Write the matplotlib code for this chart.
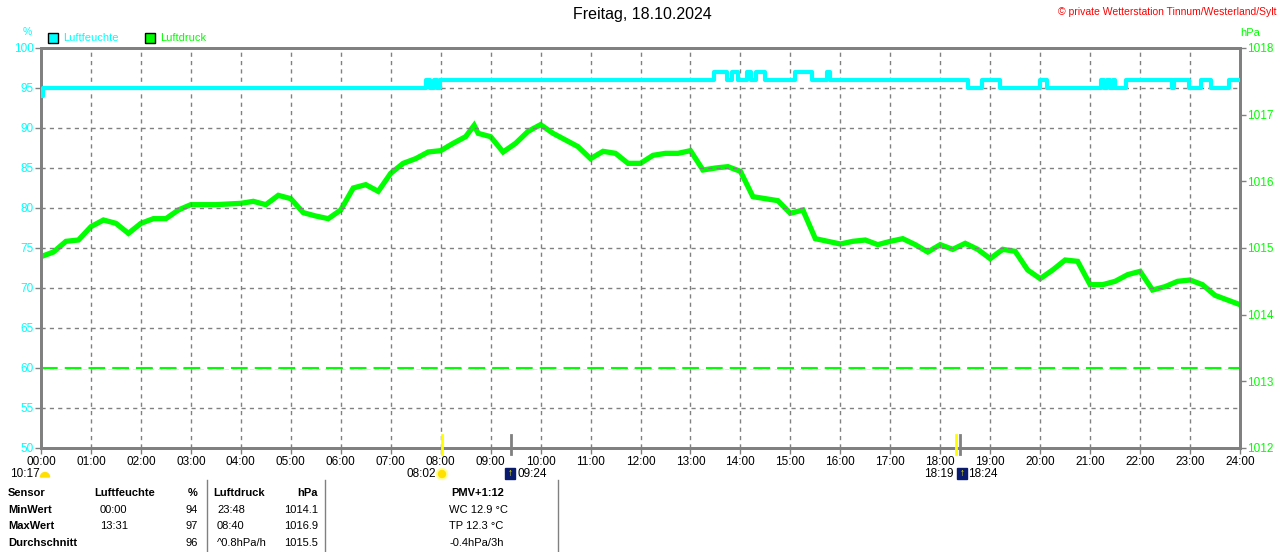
import numpy as np
import matplotlib
matplotlib.use('Agg')
from matplotlib import pyplot as plt
from matplotlib.patches import Rectangle, Wedge, Circle

plt.rcParams['font.family'] = ['Liberation Sans', 'DejaVu Sans']

title = 'Freitag, 18.10.2024'
copyright_text = '\u00a9 private Wetterstation Tinnum/Westerland/Sylt'

# humidity (%) as steps: time in hours, value from that time on
hum_t = [0.0, 0.05, 7.70, 7.78, 7.86, 7.92, 7.98, 13.48, 13.73, 13.83, 13.95,
         14.13, 14.22, 14.32, 14.50, 15.10, 15.43, 15.73, 15.80, 18.55, 18.83,
         19.20, 20.00, 20.13, 21.22, 21.28, 21.33, 21.40, 21.45, 21.50, 21.72,
         22.63, 22.68, 22.97, 23.22, 23.42, 23.78, 24.0]
hum_v = [94, 95, 96, 95, 96, 95, 96, 97, 96, 97, 96,
         97, 96, 97, 96, 97, 96, 97, 96, 95, 96,
         95, 96, 95, 96, 95, 96, 95, 96, 95, 96,
         95, 96, 95, 96, 95, 96, 96]

# pressure (hPa), every 15 minutes plus the 08:40 peak
p_t = [0.0, 0.25, 0.5, 0.75, 1.0, 1.25, 1.5, 1.75, 2.0, 2.25, 2.5, 2.75,
       3.0, 3.25, 3.5, 3.75, 4.0, 4.25, 4.5, 4.75, 5.0, 5.25, 5.5, 5.75,
       6.0, 6.25, 6.5, 6.75, 7.0, 7.25, 7.5, 7.75, 8.0, 8.25, 8.5, 8.67, 8.75,
       9.0, 9.25, 9.5, 9.75, 10.0, 10.25, 10.5, 10.75, 11.0, 11.25, 11.5, 11.75,
       12.0, 12.25, 12.5, 12.75, 13.0, 13.25, 13.5, 13.75, 14.0, 14.25, 14.5, 14.75,
       15.0, 15.25, 15.5, 15.75, 16.0, 16.25, 16.5, 16.75, 17.0, 17.25, 17.5, 17.75,
       18.0, 18.25, 18.5, 18.75, 19.0, 19.25, 19.5, 19.75, 20.0, 20.25, 20.5, 20.75,
       21.0, 21.25, 21.5, 21.75, 22.0, 22.25, 22.5, 22.75, 23.0, 23.25, 23.5, 23.75, 24.0]
p_v = [1014.87, 1014.94, 1015.10, 1015.12, 1015.32, 1015.42, 1015.37, 1015.22,
       1015.37, 1015.44, 1015.44, 1015.57, 1015.65, 1015.65, 1015.65, 1015.66,
       1015.67, 1015.70, 1015.65, 1015.79, 1015.74, 1015.53, 1015.48, 1015.44,
       1015.57, 1015.90, 1015.95, 1015.85, 1016.12, 1016.27, 1016.34, 1016.44,
       1016.46, 1016.57, 1016.67, 1016.84, 1016.72, 1016.67, 1016.44, 1016.57,
       1016.75, 1016.85, 1016.72, 1016.62, 1016.52, 1016.34, 1016.45, 1016.42,
       1016.27, 1016.27, 1016.39, 1016.42, 1016.42, 1016.46, 1016.17, 1016.20,
       1016.22, 1016.15, 1015.77, 1015.74, 1015.71, 1015.52, 1015.57, 1015.14,
       1015.10, 1015.06, 1015.10, 1015.12, 1015.05, 1015.10, 1015.14, 1015.05,
       1014.94, 1015.05, 1014.98, 1015.07, 1014.98, 1014.84, 1014.98, 1014.95,
       1014.67, 1014.54, 1014.67, 1014.82, 1014.80, 1014.45, 1014.45, 1014.50,
       1014.60, 1014.65, 1014.37, 1014.42, 1014.50, 1014.52, 1014.45, 1014.29,
       1014.22, 1014.15]
p_ref = 1013.2

hours = list(range(25))
hour_labels = ['%02d:00' % h for h in hours]
hum_ticks = [50, 55, 60, 65, 70, 75, 80, 85, 90, 95, 100]
p_ticks = [1012, 1013, 1014, 1015, 1016, 1017, 1018]

# table below the chart
table_rows = ['Sensor', 'MinWert', 'MaxWert', 'Durchschnitt']
hum_time = ['', '00:00', '13:31', '']
hum_val = ['%', '94', '97', '96']
p_time = ['', '23:48', '08:40', '^0.8hPa/h']
p_val = ['hPa', '1014.1', '1016.9', '1015.5']
pmv = ['PMV+1:12', 'WC 12.9 \u00b0C', 'TP 12.3 \u00b0C', '-0.4hPa/3h']

CYAN = '#00FFFF'
GREEN = '#00FF00'
GRAY = '#808080'

W, H = 1280, 552
fig = plt.figure(figsize=(W / 100, H / 100), dpi=100)
L, R, T, B = 41, 1240, 48, 448
ax = fig.add_axes([L / W, 1 - B / H, (R - L) / W, (B - T) / H])
ax2 = ax.twinx()

ax.set_xlim(0, 24)
ax.set_ylim(50, 100)
ax2.set_ylim(1012, 1018)

for h in hours[1:-1]:
    ax.axvline(h, color=GRAY, lw=1, ls=(0, (3, 3)), zorder=1)
for v in hum_ticks[1:-1]:
    ax.axhline(v, color=GRAY, lw=1, ls=(0, (3, 3)), zorder=1)

# reference line in hPa, drawn on the top axes so it covers the grid
ax.plot([0, 24], [p_ref, p_ref], transform=ax2.transData, color=GREEN, lw=1.5,
        ls=(0, (8, 3.4)), gapcolor='white', zorder=2)
ax2.plot(p_t, p_v, color=GREEN, lw=3.8, solid_joinstyle='miter', zorder=3)
ax.plot(hum_t, hum_v, color=CYAN, lw=3, drawstyle='steps-post', zorder=4)
ax.set_zorder(ax2.get_zorder() + 1)
ax.patch.set_visible(False)

for a in (ax, ax2):
    for s in a.spines.values():
        s.set_color(GRAY)
        s.set_linewidth(2)

ax.set_xticks(hours)
ax.set_xticklabels(hour_labels)
ax.set_yticks(hum_ticks)
ax2.set_yticks(p_ticks)
ax.tick_params(axis='x', length=4, width=1, color=GRAY, pad=1.5, labelsize=8.5)
ax.tick_params(axis='y', length=4, width=1, color=GRAY, pad=1, labelsize=8.5, labelcolor=CYAN)
ax2.tick_params(axis='y', length=4, width=1, color=GRAY, pad=1, labelsize=8.5, labelcolor=GREEN)

# sunrise / sunset markers on the time axis
for hx, c in [(8 + 2 / 60, 'yellow'), (9 + 24 / 60, GRAY), (18 + 19 / 60, 'yellow'), (18 + 24 / 60, GRAY)]:
    ax.plot([hx, hx], [49.3, 51.6], color=c, lw=2, clip_on=False, zorder=6)

ty = 1 - 474 / H
fig.text(10 / W, ty, '10:17', fontsize=8.5, va='center')
fig.text(436 / W, ty, '08:02', fontsize=8.5, va='center', ha='right')
fig.text(517 / W, ty, '09:24', fontsize=8.5, va='center')
fig.text(954 / W, ty, '18:19', fontsize=8.5, va='center', ha='right')
fig.text(968 / W, ty, '18:24', fontsize=8.5, va='center')

# small icons, placed in pixel units (inches = px / 100)
inch = fig.dpi_scale_trans
fig.add_artist(Wedge((0.45, (H - 477) / 100), 0.045, 0, 180, color='#FFE000', transform=inch))
fig.add_artist(Circle((4.42, (H - 474) / 100), 0.055, color='#FFFF99', transform=inch))
fig.add_artist(Circle((4.42, (H - 474) / 100), 0.035, color='#FFE000', transform=inch))
for bx in (505, 957):
    fig.add_artist(Rectangle((bx / W, 1 - 479 / H), 10 / W, 11 / H, color='#0A1A6E',
                             transform=fig.transFigure))
    fig.text((bx + 5) / W, 1 - 473 / H, '\u2191', fontsize=7, color='yellow',
             va='center', ha='center', fontweight='bold')

# title, copyright, legend
fig.text(642 / W, 1 - 15 / H, title, fontsize=11.5, ha='center', va='center')
fig.text(1277 / W, 1 - 12 / H, copyright_text, fontsize=7.5, color='red', ha='right', va='center')
fig.text(27 / W, 1 - 32 / H, '%', fontsize=7.5, color=CYAN, ha='center', va='center')
fig.text(1250 / W, 1 - 33 / H, 'hPa', fontsize=8, color=GREEN, ha='center', va='center')
for lx, c, name in [(48, CYAN, 'Luftfeuchte'), (145, GREEN, 'Luftdruck')]:
    fig.add_artist(Rectangle((lx / W, 1 - 43 / H), 10 / W, 10 / H, facecolor=c,
                             edgecolor='black', lw=1, transform=fig.transFigure))
    fig.text((lx + 15) / W, 1 - 38 / H, name, fontsize=8, color=c, va='center')

# bottom table
row_y = [493, 510, 526, 543]
for i, y in enumerate(row_y):
    yy = 1 - y / H
    bold = 'bold' if i == 0 else 'normal'
    fig.text(8 / W, yy, table_rows[i], fontsize=8, fontweight='bold', va='center')
    if i == 0:
        fig.text(94 / W, yy, 'Luftfeuchte', fontsize=8, fontweight='bold', va='center')
        fig.text(213 / W, yy, 'Luftdruck', fontsize=8, fontweight='bold', va='center')
    else:
        fig.text(100 / W, yy, hum_time[i], fontsize=8, va='center')
        fig.text(217 / W, yy, p_time[i], fontsize=8, va='center')
    fig.text(198 / W, yy, hum_val[i], fontsize=8, fontweight=bold, va='center', ha='right')
    fig.text(318 / W, yy, p_val[i], fontsize=8, fontweight=bold, va='center', ha='right')
    if i == 0:
        fig.text(478 / W, yy, pmv[i], fontsize=8, fontweight='bold', va='center', ha='center')
    else:
        fig.text(449 / W, yy, pmv[i], fontsize=8, va='center')

for vx in (207, 325, 558):
    fig.add_artist(plt.Line2D([vx / W, vx / W], [0, 1 - 480 / H], color=GRAY, lw=1,
                              transform=fig.transFigure))

fig.savefig('out.png', dpi=100, facecolor='white')
